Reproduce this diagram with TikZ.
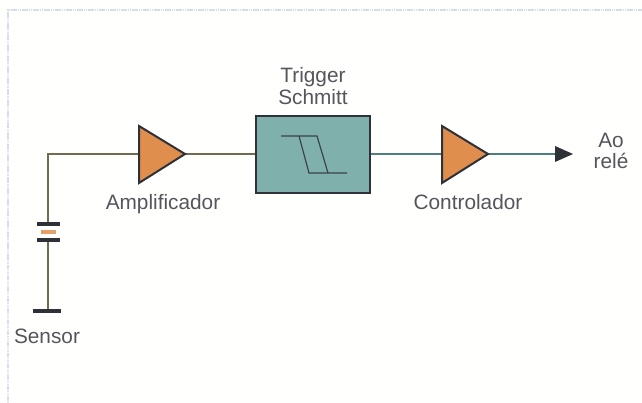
\documentclass[tikz,border=0pt]{standalone}
\usepackage{fontspec}
\setmainfont{Liberation Sans}
\definecolor{wireg}{HTML}{6E6D50}
\definecolor{wireb}{HTML}{4F7F80}
\definecolor{ink}{HTML}{2E3138}
\definecolor{txt}{HTML}{55565C}
\definecolor{tri}{HTML}{E08E4E}
\definecolor{teal}{HTML}{7FB0AC}
\definecolor{frame}{HTML}{D6DDEE}
\definecolor{paper}{HTML}{FFFFFE}
\tikzset{
  x=1pt,y=-1pt,
  wire/.style={line width=1.5pt,draw=wireg},
  wireblue/.style={line width=1.5pt,draw=wireb},
  plate/.style={line width=3.2pt,draw=ink},
  tribox/.style={fill=tri,draw=ink,line width=2pt,line join=miter},
  label/.style={font=\fontsize{20.8}{21}\selectfont,text=txt,inner sep=0pt,anchor=base},
  frameline/.style={line width=2pt,draw=frame,dash pattern=on 1.5pt off 0.7pt},
}
\begin{document}
\begin{tikzpicture}
\useasboundingbox (0,0) rectangle (642,403);
\fill[paper] (0,0) rectangle (642,403);
\draw[frameline] (8,403) -- (8,10) -- (642,10);
% coordinates
\coordinate (corner) at (48,154);
\coordinate (ampIn) at (139,154);
\coordinate (ampOut) at (185,154);
\coordinate (trigIn) at (256,154);
\coordinate (trigOut) at (370,154);
\coordinate (ctlIn) at (442,154);
\coordinate (ctlOut) at (488,154);
\coordinate (arrowBase) at (556,154);
\coordinate (arrowTip) at (573,154);
\coordinate (capTop) at (48,224);
\coordinate (capBot) at (48,240);
\coordinate (ground) at (48,311);
% wires
\draw[wire] (capTop) -- (corner) -- (ampIn);
\draw[wire] (ampOut) -- (trigIn);
\draw[wireblue] (trigOut) -- (ctlIn);
\draw[wireblue] (ctlOut) -- (arrowBase);
\draw[wire] (capBot) -- (ground);
% sensor
\draw[plate] (37,224) -- (60,224);
\draw[line width=3.2pt,draw=tri!85!white] (41,232) -- (56,232);
\draw[plate] (37,240) -- (60,240);
\draw[line width=4pt,draw=ink] (33,311) -- (61,311);
% triangles
\draw[tribox] (139,126) -- (ampOut) -- (139,183) -- cycle;
\draw[tribox] (442,126) -- (ctlOut) -- (442,183) -- cycle;
% schmitt box
\draw[fill=teal,draw=ink,line width=2.4pt] (256,116) rectangle (370,193);
\draw[line width=1.2pt,draw=ink!85!teal] (281,136) -- (317,136) -- (328,173) -- (347,173) -- (309,173) -- (299,136);
% arrowhead
\fill[ink] (arrowTip) -- (555,146) -- (555,162) -- cycle;
% labels
\node[label] (ltrig) at (313,83) {Trigger};
\node[label] (lschm) at (313,105) {Schmitt};
\node[label] (lamp) at (163,210) {Amplificador};
\node[label] (lctl) at (468,210) {Controlador};
\node[label] (lao) at (611,148) {Ao};
\node[label] (lrele) at (611,169) {relé};
\node[label] (lsens) at (47,343) {Sensor};
\end{tikzpicture}
\end{document}
